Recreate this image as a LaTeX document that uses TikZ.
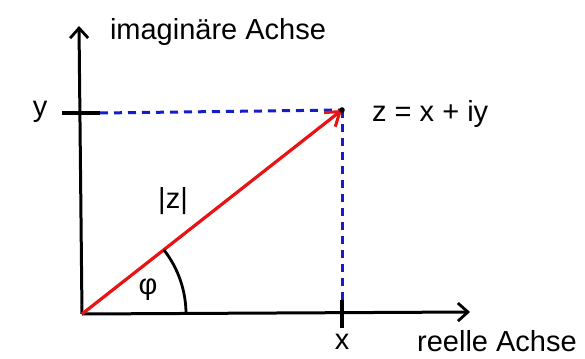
\documentclass[tikz,border=0pt]{standalone}
\usepackage{fontspec}
\setmainfont{Liberation Sans}
\usetikzlibrary{arrows.meta}
\definecolor{vecred}{RGB}{230,20,20}
\definecolor{dashblue}{RGB}{20,30,200}
\begin{document}
\begin{tikzpicture}[x=1pt,y=-1pt,
  axis/.style={line width=3pt,-{Straight Barb[length=10pt,width=18pt,line width=2.8pt]}},
  tick/.style={line width=3.2pt},
  guide/.style={dashblue,line width=3pt,dash pattern=on 8pt off 6pt},
  vec/.style={vecred,line width=3.2pt,-{Straight Barb[length=13pt,width=18pt,line width=3pt]}},
  lbl/.style={font=\fontsize{29}{34}\selectfont,inner sep=0pt}]
\useasboundingbox (0,0) rectangle (585,358);
\coordinate (O) at (82,314);
\coordinate (Ytip) at (79,26);
\coordinate (Xtip) at (470,312);
\coordinate (Z) at (342,110);
\coordinate (YtL) at (62,113);
\coordinate (YtR) at (100,113);
\coordinate (XtT) at (342,300);
\coordinate (XtB) at (342,328);
\draw[axis] (O) -- (Ytip);
\draw[axis] (O) -- (Xtip);
\draw[tick] (YtL) -- (YtR);
\draw[tick] (XtT) -- (XtB);
\draw[guide] (YtR) -- (Z);
\draw[guide] (Z) -- (XtT);
\draw[vec] (O) -- (Z);
\fill (Z) circle (2.8pt);
\draw[line width=2.8pt] (O) ++(104,0) arc[start angle=0,end angle=-38,radius=104];
\node[lbl] (ylab) at (40,112) {y};
\node[lbl] (xlab) at (342,342) {x};
\node[lbl] (im) at (218,32) {imaginäre Achse};
\node[lbl] (re) at (497,341) {reelle Achse};
\node[lbl,anchor=west] (zlab) at (372,114) {z = x + iy};
\node[lbl] (abs) at (173,201) {|z|};
\node[lbl] (phi) at (148,290) {φ};
\end{tikzpicture}
\end{document}
